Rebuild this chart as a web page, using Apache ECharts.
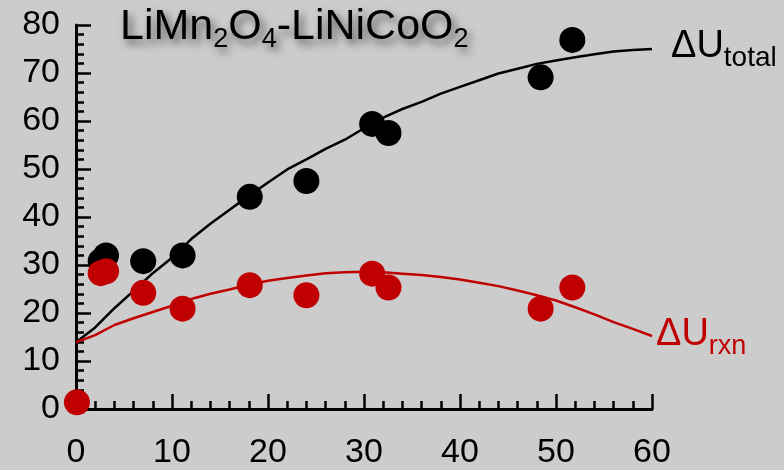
<!DOCTYPE html>
<html>
<head>
<meta charset="utf-8">
<script src="https://cdn.jsdelivr.net/npm/echarts@6/dist/echarts.min.js"></script>
<style>
html,body{margin:0;padding:0;background:#cccccc;}
#chart{width:784px;height:470px;}
</style>
</head>
<body>
<div id="chart"></div>
<script>
// ---- data ----
var xTicks = [0, 10, 20, 30, 40, 50, 60];
var yTicks = [0, 10, 20, 30, 40, 50, 60, 70, 80];

// measured points (shared x positions)
var pointX = [2.57, 3.13, 7.0, 11.1, 18.1, 24.0, 30.85, 32.55, 48.4, 51.7];
var totalY = [30.8, 32.0, 30.8, 32.0, 44.2, 47.5, 59.4, 57.5, 69.1, 76.9];
var rxnY   = [28.3, 28.7, 24.2, 20.9, 25.8, 23.7, 28.2, 25.3, 20.9, 25.3];
var rxnOriginX = [0.1];
var rxnOriginY = [1.4];

// fitted curves
var curveX = [0,2,4,6,8,10,12,14,16,18,20,22,24,26,28,30,32,34,36,38,40,42,44,46,48,50,52,54,56,58,60];
var totalCurveY = [13.9,17.0,21.0,24.6,28.3,31.5,35.4,38.6,41.5,44.4,47.2,49.9,52.0,54.2,56.1,58.5,60.7,62.5,64.0,65.7,67.1,68.5,69.9,70.9,71.9,72.6,73.3,73.9,74.5,74.8,75.0];
var rxnCurveY   = [13.9,15.4,17.5,18.9,20.2,21.5,22.9,24.0,24.9,25.9,26.7,27.3,27.8,28.3,28.5,28.6,28.5,28.2,27.9,27.5,27.0,26.3,25.6,24.7,23.7,22.6,21.2,19.7,18.1,16.7,15.2];

var titleText = '{m|LiMn}{s|2}{m|O}{s|4}{m|-LiNiCoO}{s|2}';

// ---- build ----
function pairs(xs, ys){ var out=[]; for(var i=0;i<xs.length;i++) out.push([xs[i], ys[i]]); return out; }

var FONT = '"Liberation Sans", Arial, sans-serif';
var BLACK = '#000000';
var RED = '#c00000';

function axisCommon(ticks){
  return {
    type: 'value',
    min: ticks[0],
    max: ticks[ticks.length-1],
    interval: ticks[1]-ticks[0],
    axisLine: {show: true, onZero: false, lineStyle: {color: BLACK, width: 3}},
    axisTick: {show: true, inside: true, length: 15, lineStyle: {color: BLACK, width: 2.5}},
    minorTick: {show: true, splitNumber: 5, length: 8, lineStyle: {color: BLACK, width: 2.5}},
    splitLine: {show: false},
    minorSplitLine: {show: false}
  };
}

var xAxis = axisCommon(xTicks);
xAxis.axisLabel = {color: BLACK, fontSize: 34, fontFamily: FONT, margin: 27};
var yAxis = axisCommon(yTicks);
yAxis.axisLabel = {color: BLACK, fontSize: 34, fontFamily: FONT, margin: 16};

var shadow = {textShadowColor: 'rgba(0,0,0,0.6)', textShadowBlur: 8, textShadowOffsetX: 4, textShadowOffsetY: 5};

var chart = echarts.init(document.getElementById('chart'), null, {renderer: 'canvas'});
chart.setOption({
  backgroundColor: '#cccccc',
  animation: false,
  grid: {left: 76, right: 132, top: 25, bottom: 60, containLabel: false},
  xAxis: xAxis,
  yAxis: yAxis,
  graphic: [
    {
      type: 'text', x: 120, y: 27, z: 10,
      style: {
        text: titleText,
        align: 'left', verticalAlign: 'middle',
        fontFamily: FONT,
        rich: {
          m: Object.assign({fontSize: 43, lineHeight: 52, fontFamily: FONT, fill: BLACK, verticalAlign: 'middle'}, shadow),
          s: Object.assign({fontSize: 27, lineHeight: 23, fontFamily: FONT, fill: BLACK, verticalAlign: 'bottom'}, shadow)
        }
      }
    },
    {
      type: 'text', x: 671, y: 47, z: 10,
      style: {
        text: '{m|ΔU}{s|total}',
        align: 'left', verticalAlign: 'middle', fontFamily: FONT,
        rich: {
          m: {fontSize: 38, lineHeight: 50, fontFamily: FONT, fill: BLACK, verticalAlign: 'middle'},
          s: {fontSize: 28, lineHeight: 20, fontFamily: FONT, fill: BLACK, verticalAlign: 'bottom'}
        }
      }
    },
    {
      type: 'text', x: 656, y: 335, z: 10,
      style: {
        text: '{m|ΔU}{s|rxn}',
        align: 'left', verticalAlign: 'middle', fontFamily: FONT,
        rich: {
          m: {fontSize: 38, lineHeight: 50, fontFamily: FONT, fill: RED, verticalAlign: 'middle'},
          s: {fontSize: 27, lineHeight: 20, fontFamily: FONT, fill: RED, verticalAlign: 'bottom'}
        }
      }
    }
  ],
  series: [
    {
      name: 'ΔU total fit', type: 'line', data: pairs(curveX, totalCurveY),
      showSymbol: false, symbol: 'none', clip: false,
      lineStyle: {color: BLACK, width: 2.5}, z: 2
    },
    {
      name: 'ΔU rxn fit', type: 'line', data: pairs(curveX, rxnCurveY),
      showSymbol: false, symbol: 'none', clip: false,
      lineStyle: {color: RED, width: 2.5}, z: 2
    },
    {
      name: 'ΔU total', type: 'scatter', data: pairs(pointX, totalY),
      symbol: 'circle', symbolSize: 26, clip: false,
      itemStyle: {color: BLACK, opacity: 1}, z: 3
    },
    {
      name: 'ΔU rxn', type: 'scatter', data: pairs(rxnOriginX, rxnOriginY).concat(pairs(pointX, rxnY)),
      symbol: 'circle', symbolSize: 26, clip: false,
      itemStyle: {color: RED, opacity: 1}, z: 4
    }
  ]
});
</script>
</body>
</html>
